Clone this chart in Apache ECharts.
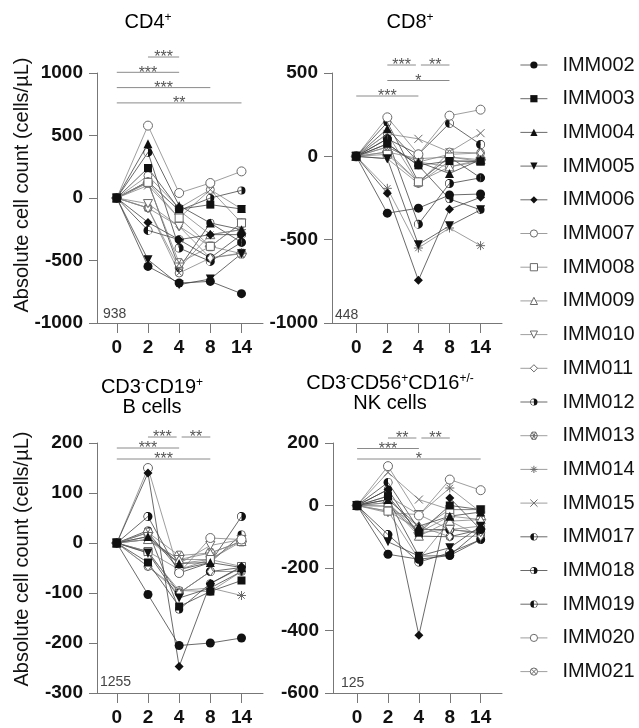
<!DOCTYPE html>
<html>
<head>
<meta charset="utf-8">
<script src="https://cdn.jsdelivr.net/npm/echarts@6/dist/echarts.min.js"></script>
<style>
  html, body { margin: 0; padding: 0; background: #fff; }
  #chart { width: 639px; height: 728px; }
</style>
</head>
<body>
<div id="chart"></div>
<script>
// days after treatment
const timepoints = ['0', '2', '4', '8', '14'];
const subjects = ['IMM002', 'IMM003', 'IMM004', 'IMM005', 'IMM006', 'IMM007', 'IMM008', 'IMM009', 'IMM010',
  'IMM011', 'IMM012', 'IMM013', 'IMM014', 'IMM015', 'IMM017', 'IMM018', 'IMM019', 'IMM020', 'IMM021'];

// change from day 0 (cells/uL), one row per subject, in subject order
const cd4Change = [
  [0, -547, -680, -667, -765], [0, 240, -90, -53, -88], [0, 435, -61, -200, -253], [0, -493, -693, -648, -445],
  [0, -195, -333, -293, -293], [0, 579, 40, 120, 213], [0, 125, -160, -387, -200], [0, 130, -100, -293, -253],
  [0, -45, -227, -387, -200], [0, -80, -227, -480, -440], [0, 365, -400, -507, -355], [0, 120, -520, -387, -445],
  [0, -80, -560, -293, -253], [0, 100, -160, 67, -88], [0, -259, -333, -480, -293], [0, 133, -100, 0, 61],
  [0, 130, -560, -200, -355], [0, 179, -80, 67, -200], [0, -80, -600, -480, -445]
];
const cd8Change = [
  [0, -341, -311, -232, -226], [0, 75, -54, -28, -30], [0, 165, -34, -103, -20], [0, -14, -530, -417, -321],
  [0, -222, -744, -317, -246], [0, 234, 12, 244, 280], [0, 12, -153, -4, -30], [0, 26, -153, -63, -20],
  [0, -14, -163, -28, -30], [0, 56, -34, 12, 20], [0, 105, -407, -163, -129], [0, 26, -14, -4, -20],
  [0, -192, -550, -430, -536], [0, 135, 105, 26, 139], [0, 105, 12, 198, 71], [0, 75, -54, -256, -321],
  [0, 204, -153, -4, -129], [0, 135, -163, 26, 20], [0, 56, -34, -63, -30]
];
const bChange = [
  [0, -103, -205, -200, -190], [0, -39, -127, -97, -75], [0, 13, -41, -39, -49], [0, -20, -110, -90, -57],
  [0, 140, -247, -81, -47], [0, 150, -60, 10, 7], [0, -17, -53, -33, -47], [0, 7, -33, -20, 3],
  [0, 13, -41, -5, 7], [0, -47, -100, -57, -57], [0, 53, -60, -39, 53], [0, 21, -25, -20, 3],
  [0, -20, -95, -90, -105], [0, 7, -33, -33, 7], [0, -17, -100, -57, -49], [0, 25, -133, -81, -49],
  [0, 21, -53, -39, 17], [0, -47, -95, -97, -57], [0, 7, -41, -33, 3]
];
const nkChange = [
  [0, -156, -172, -160, -77], [0, 30, -87, 0, -13], [0, 19, -66, -34, -21], [0, -116, -162, -135, -66],
  [0, 51, -415, 24, -77], [0, 126, -32, 83, 49], [0, -18, -77, -13, -13], [0, 9, -98, -50, -45],
  [0, -23, -29, -77, -87], [0, -2, -66, -100, -98], [0, -93, -181, -151, -109], [0, 9, -87, -34, -45],
  [0, 30, -29, 56, -21], [0, 106, 19, -13, -13], [0, 74, -77, -77, -87], [0, 51, -98, -100, -77],
  [0, 19, -162, -160, -109], [0, -18, -172, -50, -98], [0, -2, -87, -77, -66]
];

// baseline counts printed in the corner of each panel
const baselineLabels = ['938', '448', '1255', '125'];

// significance: [from index, to index, stars, row]
const sigCD4 = [[1, 2, '***', 0], [0, 2, '***', 1], [0, 3, '***', 2], [0, 4, '**', 3]];
const sigCD8 = [[1, 2, '***', 0], [2, 3, '**', 0], [1, 3, '*', 1], [0, 2, '***', 2]];
const sigB = [[1, 2, '***', 0], [2, 3, '**', 0], [0, 2, '***', 1], [0, 3, '***', 2]];
const sigNK = [[1, 2, '**', 0], [2, 3, '**', 0], [0, 2, '***', 1], [0, 4, '*', 2]];

const FONT = '"Liberation Sans", Arial, sans-serif';
const DARK = '#111';
const GREY = '#6a6a6a';

const O_CIRCLE = 'path://M10 0A10 10 0 1 1 10 20A10 10 0 1 1 10 0Z';
const O_RECT = 'path://M0 0L20 0L20 20L0 20Z';
const O_TRI = 'path://M10 0L20 18L0 18Z';
const O_DIAMOND = 'path://M10 0L17 10L10 20L3 10Z';
const HALF_R = 'path://M10 0A10 10 0 0 1 10 20Z M10 0A10 10 0 0 0 10 20L10 18.6A8.6 8.6 0 0 1 10 1.4Z';
const HALF_L = 'path://M10 0A10 10 0 0 0 10 20Z M10 0A10 10 0 0 1 10 20L10 18.6A8.6 8.6 0 0 0 10 1.4Z';
const HEX_STAR = 'path://M20 10L15 18.66L5 18.66L0 10L5 1.34L15 1.34Z M0 10L20 10 M5 1.34L15 18.66 M15 1.34L5 18.66';
const ASTER = 'path://M10 0L10 20 M0 10L20 10 M2.9 2.9L17.1 17.1 M17.1 2.9L2.9 17.1';
const CROSS = 'path://M1 1L19 19 M19 1L1 19';
const CIRC_X = 'path://M10 0A10 10 0 1 1 10 20A10 10 0 1 1 10 0Z M3.2 3.2L16.8 16.8 M16.8 3.2L3.2 16.8';

// marker look per subject
const markers = [
  { symbol: 'circle', size: 9, kind: 'fill' },
  { symbol: 'rect', size: 8, kind: 'fill' },
  { symbol: 'triangle', size: 9, kind: 'fill' },
  { symbol: 'triangle', size: 9, kind: 'fill', rotate: 180 },
  { symbol: 'diamond', size: 9, kind: 'fill' },
  { symbol: O_CIRCLE, size: 9, kind: 'stroke' },
  { symbol: O_RECT, size: 8, kind: 'stroke' },
  { symbol: O_TRI, size: 9, kind: 'stroke' },
  { symbol: O_TRI, size: 9, kind: 'stroke', rotate: 180 },
  { symbol: O_DIAMOND, size: 9, kind: 'stroke' },
  { symbol: HALF_R, size: 9, kind: 'fill' },
  { symbol: HEX_STAR, size: 10, kind: 'stroke' },
  { symbol: ASTER, size: 9, kind: 'stroke' },
  { symbol: CROSS, size: 8, kind: 'stroke' },
  { symbol: HALF_L, size: 9, kind: 'fill' },
  { symbol: HALF_R, size: 8, kind: 'fill' },
  { symbol: HALF_L, size: 8, kind: 'fill' },
  { symbol: O_CIRCLE, size: 8, kind: 'stroke' },
  { symbol: CIRC_X, size: 8, kind: 'stroke' }
];

function markerItemStyle(m) {
  return m.kind === 'fill'
    ? { color: DARK, borderWidth: 0 }
    : { color: '#fff', borderColor: GREY, borderWidth: 1 };
}
function markerLineStyle(m) {
  return { color: m.kind === 'fill' ? '#444' : '#858585', width: 0.8 };
}

const panels = [
  { title: '{n|CD4}{s|+}', x: 148, y: 22, values: cd4Change, sig: sigCD4, sigTop: 57, sigStep: 15.3,
    grid: { left: 97, top: 73, width: 166, height: 250 }, xMin: -0.635, yMin: -1000, yMax: 1000, yStep: 500,
    nameY: 185, base: [103, 314] },
  { title: '{n|CD8}{s|+}', x: 410, y: 22, values: cd8Change, sig: sigCD8, sigTop: 65, sigStep: 15.5,
    grid: { left: 332, top: 73, width: 170, height: 250 }, xMin: -0.78, yMin: -1000, yMax: 500, yStep: 500,
    base: [335, 315] },
  { title: '{n|CD3}{s|-}{n|CD19}{s|+}\n{n|B cells}', x: 152, y: 397, values: bChange, sig: sigB, sigTop: 437, sigStep: 11,
    grid: { left: 97, top: 443, width: 166, height: 250 }, xMin: -0.635, yMin: -300, yMax: 200, yStep: 100,
    nameY: 559, base: [100, 682] },
  { title: '{n|CD3}{s|-}{n|CD56}{s|+}{n|CD16}{s|+/-}\n{n|NK cells}', x: 390, y: 393, values: nkChange, sig: sigNK, sigTop: 438, sigStep: 10.5,
    grid: { left: 333, top: 443, width: 169, height: 250 }, xMin: -0.78, yMin: -600, yMax: 200, yStep: 200,
    base: [341, 683] }
];

const axisColor = '#777';

const option = {
  animation: false,
  backgroundColor: '#fff',
  textStyle: { fontFamily: FONT },
  legend: {
    orient: 'vertical',
    left: 520,
    top: 55,
    padding: 0,
    itemWidth: 27,
    itemHeight: 9,
    itemGap: 13.7,
    data: subjects.map((name, s) => ({
      name: name,
      itemStyle: markerItemStyle(markers[s]),
      lineStyle: markerLineStyle(markers[s])
    })),
    textStyle: { fontSize: 20, color: DARK, fontFamily: FONT, padding: [0, 0, 0, 10] }
  },
  grid: panels.map(p => Object.assign({ containLabel: false }, p.grid)),
  xAxis: panels.map((p, i) => ({
    type: 'value',
    gridIndex: i,
    min: p.xMin,
    max: 4.69,
    splitLine: { show: false },
    axisLine: { onZero: false, lineStyle: { color: axisColor, width: 1 } },
    axisTick: { customValues: [0, 1, 2, 3, 4], length: 10, lineStyle: { color: axisColor } },
    axisLabel: {
      customValues: [0, 1, 2, 3, 4],
      margin: 15,
      fontSize: 19,
      fontWeight: 'bold',
      color: DARK,
      fontFamily: FONT,
      formatter: v => timepoints[Math.round(v)] || ''
    }
  })),
  yAxis: panels.map((p, i) => ({
    type: 'value',
    gridIndex: i,
    min: p.yMin,
    max: p.yMax,
    interval: p.yStep,
    splitLine: { show: false },
    axisLine: { show: true, onZero: false, lineStyle: { color: axisColor, width: 1 } },
    axisTick: { show: true, length: 8, lineStyle: { color: axisColor } },
    axisLabel: { margin: 14, fontSize: 19, fontWeight: 'bold', color: DARK, fontFamily: FONT, formatter: v => String(v) }
  })),
  series: []
};

// later subjects first so the early, filled markers end up on top
const drawOrder = subjects.map((_, s) => s).reverse();
drawOrder.splice(drawOrder.indexOf(1), 1);
drawOrder.push(1);

panels.forEach((p, i) => {
  drawOrder.forEach(s => {
    const m = markers[s];
    option.series.push({
      type: 'line',
      name: subjects[s],
      xAxisIndex: i,
      yAxisIndex: i,
      data: p.values[s].map((v, k) => [k, v]),
      symbol: m.symbol,
      symbolSize: m.size,
      symbolRotate: m.rotate || 0,
      symbolKeepAspect: true,
      itemStyle: markerItemStyle(m),
      lineStyle: markerLineStyle(m),
      emphasis: { disabled: true },
      clip: false
    });
  });
});

const chart = echarts.init(document.getElementById('chart'));
chart.setOption(option);

// titles, axis names, baseline counts and significance bars
const graphics = [];
const rich = {
  n: { fontSize: 20, fontFamily: FONT, color: DARK, lineHeight: 20 },
  s: { fontSize: 12, fontFamily: FONT, color: DARK, lineHeight: 12, verticalAlign: 'top' }
};
panels.forEach((p, i) => {
  graphics.push({
    type: 'text', x: p.x, y: p.y, z: 10,
    style: { text: p.title, rich: rich, textAlign: 'center', textVerticalAlign: 'middle' }
  });
  if (p.nameY) {
    graphics.push({
      type: 'text', x: 22, y: p.nameY, rotation: Math.PI / 2,
      style: { text: 'Absolute cell count (cells/µL)', font: '20px ' + FONT, fill: DARK,
        textAlign: 'center', textVerticalAlign: 'middle' }
    });
  }
  graphics.push({
    type: 'text', x: p.base[0], y: p.base[1],
    style: { text: baselineLabels[i], font: '14px ' + FONT, fill: '#444', textAlign: 'left', textVerticalAlign: 'middle' }
  });
  p.sig.forEach(([a, b, stars, row]) => {
    let x1 = chart.convertToPixel({ gridIndex: i }, [a, 0])[0];
    let x2 = chart.convertToPixel({ gridIndex: i }, [b, 0])[0];
    p.sig.forEach(o => {
      if (o[3] !== row) return;
      if (o[0] === b) x2 -= 2.5;
      if (o[1] === a) x1 += 2.5;
    });
    const y = p.sigTop + row * p.sigStep;
    graphics.push({
      type: 'line', shape: { x1: x1, y1: y, x2: x2, y2: y },
      style: { stroke: '#8a8a8a', lineWidth: 1 }
    });
    graphics.push({
      type: 'text', x: (x1 + x2) / 2, y: y + 1,
      style: { text: stars, font: '16px ' + FONT, fill: '#555', textAlign: 'center', textVerticalAlign: 'middle' }
    });
  });
});
chart.setOption({ graphic: graphics });
</script>
</body>
</html>
